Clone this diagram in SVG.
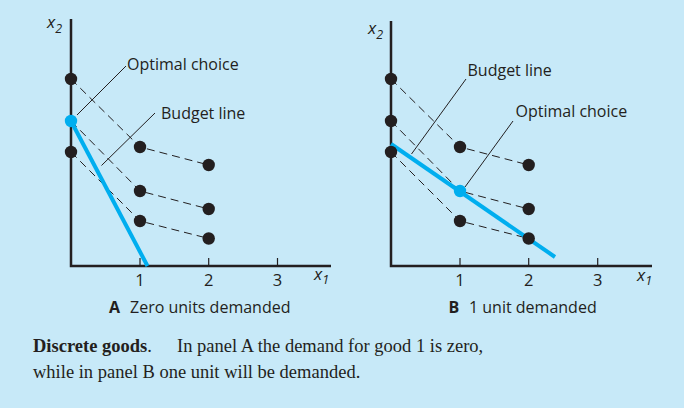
<svg xmlns="http://www.w3.org/2000/svg" width="684" height="408" viewBox="0 0 684 408">
<style>
.axis{stroke:#231f20;stroke-width:2.5;fill:none}
.tick{stroke:#231f20;stroke-width:1.2}
.dash{stroke:#231f20;stroke-width:1;stroke-dasharray:8 5;fill:none}
.lead{stroke:#231f20;stroke-width:1;fill:none}
.budget{stroke:#00aeef;stroke-width:4;fill:none}
.dot{fill:#231f20}
.opt{fill:#00aeef}
.lbl{font-family:"Open Sans",sans-serif;font-size:16px;fill:#231f20}
.num{font-family:"Open Sans",sans-serif;font-size:16.5px;fill:#231f20;text-anchor:middle}
.var{font-family:"Open Sans",sans-serif;font-style:italic;font-size:17px;fill:#231f20}
.sub{font-family:"Open Sans",sans-serif;font-size:12.5px;fill:#231f20}
.cap{font-family:"Liberation Serif",serif;font-size:18.5px;fill:#231f20}
</style>
<rect width="684" height="408" fill="#c7e9f8"/>

<g id="panelA">
  <g id="axesA">
    <polyline class="axis" points="71,19 71,266 331,266"/>
    <line class="tick" x1="140" y1="258" x2="140" y2="266"/>
    <line class="tick" x1="208.7" y1="258" x2="208.7" y2="266"/>
    <line class="tick" x1="277.5" y1="258" x2="277.5" y2="266"/>
    <text class="num" x="140" y="286">1</text>
    <text class="num" x="208.7" y="286">2</text>
    <text class="num" x="277.5" y="286">3</text>
    <text class="var" x="47" y="28">x<tspan class="sub" dy="5">2</tspan></text>
    <text class="var" x="314" y="280">x<tspan class="sub" dy="4">1</tspan></text>
  </g>
  <g id="connectorsA">
    <polyline class="dash" points="71,79 140,147 208.7,165"/>
    <polyline class="dash" points="71,121 140,191 208.7,209"/>
    <polyline class="dash" points="71,152 140,221 208.7,238.5"/>
    <line class="budget" x1="71" y1="121" x2="147.5" y2="266"/>
    <line class="lead" x1="77" y1="115" x2="126" y2="66"/>
    <line class="lead" x1="155" y1="113" x2="101.5" y2="165.5"/>
  </g>
  <g id="dotsA">
    <circle class="dot" cx="71" cy="79" r="6.2"/>
    <circle class="dot" cx="71" cy="152" r="6.2"/>
    <circle class="dot" cx="140" cy="147" r="6.2"/>
    <circle class="dot" cx="140" cy="191" r="6.2"/>
    <circle class="dot" cx="140" cy="221" r="6.2"/>
    <circle class="dot" cx="208.7" cy="165" r="6.2"/>
    <circle class="dot" cx="208.7" cy="209" r="6.2"/>
    <circle class="dot" cx="208.7" cy="238.5" r="6.2"/>
    <circle class="opt" cx="71" cy="121" r="6.2"/>
  </g>
  <g id="labelsA">
    <text class="lbl" x="127" y="70">Optimal choice</text>
    <text class="lbl" x="161" y="119">Budget line</text>
    <text class="lbl" x="109" y="313"><tspan font-weight="bold">A</tspan><tspan x="130">Zero units demanded</tspan></text>
  </g>
</g>

<g id="panelB">
  <g id="axesB">
    <polyline class="axis" points="391,21 391,266 652,266"/>
    <line class="tick" x1="460" y1="258" x2="460" y2="266"/>
    <line class="tick" x1="528.7" y1="258" x2="528.7" y2="266"/>
    <line class="tick" x1="597.7" y1="258" x2="597.7" y2="266"/>
    <text class="num" x="460" y="286">1</text>
    <text class="num" x="528.7" y="286">2</text>
    <text class="num" x="597.7" y="286">3</text>
    <text class="var" x="368" y="34">x<tspan class="sub" dy="5">2</tspan></text>
    <text class="var" x="637" y="281">x<tspan class="sub" dy="4">1</tspan></text>
  </g>
  <g id="connectorsB">
    <polyline class="dash" points="391,79 460,147 528.7,165"/>
    <polyline class="dash" points="391,121 460,191 528.7,209"/>
    <polyline class="dash" points="391,152 460,221 528.7,238.5"/>
    <line class="budget" x1="391" y1="144" x2="555" y2="257"/>
    <line class="lead" x1="466" y1="79" x2="411.5" y2="154"/>
    <line class="lead" x1="513" y1="121" x2="465" y2="187"/>
  </g>
  <g id="dotsB">
    <circle class="dot" cx="391" cy="79" r="6.2"/>
    <circle class="dot" cx="391" cy="121" r="6.2"/>
    <circle class="dot" cx="391" cy="152" r="6.2"/>
    <circle class="dot" cx="460" cy="147" r="6.2"/>
    <circle class="dot" cx="460" cy="221" r="6.2"/>
    <circle class="dot" cx="528.7" cy="165" r="6.2"/>
    <circle class="dot" cx="528.7" cy="209" r="6.2"/>
    <circle class="dot" cx="528.7" cy="238.5" r="6.2"/>
    <circle class="opt" cx="460" cy="191" r="6.2"/>
  </g>
  <g id="labelsB">
    <text class="lbl" x="467.5" y="76">Budget line</text>
    <text class="lbl" x="515.5" y="116.5">Optimal choice</text>
    <text class="lbl" x="448.5" y="313"><tspan font-weight="bold">B</tspan><tspan x="469">1 unit demanded</tspan></text>
  </g>
</g>

<g id="caption">
  <text class="cap" x="33" y="352"><tspan font-weight="bold">Discrete goods</tspan>.<tspan x="177">In panel A the demand for good 1 is zero,</tspan></text>
  <text class="cap" x="33" y="378">while in panel B one unit will be demanded.</text>
</g>
</svg>
